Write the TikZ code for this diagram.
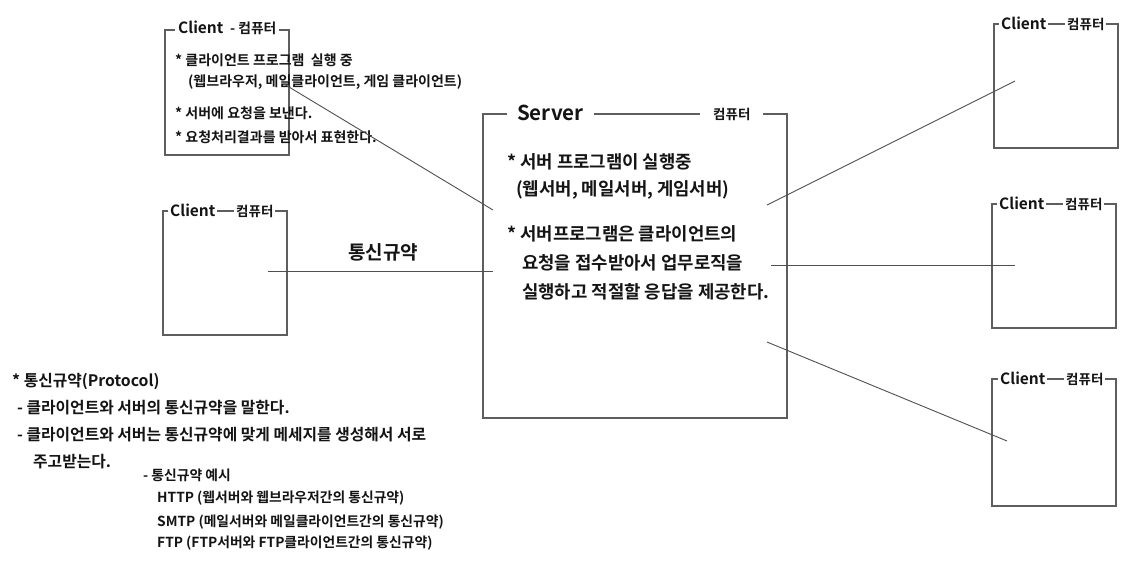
\documentclass[tikz,border=0pt]{standalone}
\usepackage{fontspec}
\setmainfont{Noto Sans CJK KR}[BoldFont={* Bold}]
\newfontfamily\kr{Noto Sans CJK KR Bold}
\definecolor{boxgray}{HTML}{5E5E5E}
\definecolor{linegray}{HTML}{505050}
\definecolor{ink}{HTML}{141414}
\begin{document}
\begin{tikzpicture}[x=1pt,y=-1pt,
  frame/.style={draw=boxgray,line width=1.1pt},
  conn/.style={draw=linegray,line width=0.9pt},
  ttl/.style={fill=white,inner xsep=2pt,inner ysep=0pt,text=ink,font=\kr\fontsize{15.5}{17}\selectfont},
  ttlsmall/.style={fill=white,inner xsep=2pt,inner ysep=0pt,text=ink,font=\kr\fontsize{13.5}{15}\selectfont},
  txt/.style={anchor=west,inner sep=0pt,text=ink,font=\kr\fontsize{14}{16}\selectfont},
  txtm/.style={anchor=west,inner sep=0pt,text=ink,font=\kr\fontsize{17.8}{20}\selectfont},
  txtb/.style={anchor=west,inner sep=0pt,text=ink,font=\kr\fontsize{15.8}{18}\selectfont},
  txts/.style={anchor=west,inner sep=0pt,text=ink,font=\kr\fontsize{13.8}{15}\selectfont}]
\useasboundingbox (0,0) rectangle (1140,570);
\fill[white] (0,0) rectangle (1140,570);

% ---- boxes
\draw[frame] (165,30) rectangle (289,155);
\draw[frame] (163,211) rectangle (287,335);
\draw[frame] (483,114) rectangle (787,418);
\draw[frame] (994,24) rectangle (1118,148);
\draw[frame] (992,204) rectangle (1116,328);
\draw[frame] (992,379) rectangle (1116,506);

% ---- titles
\node[ttl,anchor=west,inner xsep=3pt] (c1t) at (175,28) {Client {\fontsize{13.8}{15}\selectfont\ -\ 컴퓨터}};
\node[ttl,anchor=west] (c2a) at (168,210) {Client};
\node[ttlsmall,anchor=west] (c2b) at (234,211) {컴퓨터};
\node[ttl,anchor=west] (r1a) at (999,23) {Client};
\node[ttlsmall,anchor=west] (r1b) at (1065,24) {컴퓨터};
\node[ttl,anchor=west] (r2a) at (997,203) {Client};
\node[ttlsmall,anchor=west] (r2b) at (1063,204) {컴퓨터};
\node[ttl,anchor=west] (r3a) at (998,378) {Client};
\node[ttlsmall,anchor=west] (r3b) at (1064,379) {컴퓨터};
\node[fill=white,inner xsep=10pt,inner ysep=0pt,text=ink,font=\kr\fontsize{20.5}{22}\selectfont,anchor=west] (st) at (507,113) {Server};
\node[ttlsmall,anchor=west,inner xsep=13pt] (sc) at (700,114) {컴퓨터};

% ---- client 1 text
\node[txt] (c1l1) at (175,60) {* 클라이언트 프로그램\ \ 실행 중};
\node[txt] (c1l2) at (188,82) {(웹브라우저, 메일클라이언트, 게임 클라이언트)};
\node[txt] (c1l3) at (175,113) {* 서버에 요청을 보낸다.};
\node[txt] (c1l4) at (175,137) {* 요청처리결과를 받아서 표현한다.};

% ---- server text
\node[txtm] (s1) at (507,162) {* 서버 프로그램이 실행중};
\node[txtm] (s2) at (516,190) {(웹서버, 메일서버, 게임서버)};
\node[txtm] (s3) at (507,234) {* 서버프로그램은 클라이언트의};
\node[txtm] (s4) at (522,263) {요청을 접수받아서 업무로직을};
\node[txtm] (s5) at (522,292) {실행하고 적절할 응답을 제공한다.};

% ---- protocol label
\node[inner sep=0pt,text=ink,font=\kr\fontsize{19}{21}\selectfont] (proto) at (383,252) {통신규약};

% ---- connector end points
\coordinate (c1p) at (284,84);
\coordinate (c2p) at (268,271);
\coordinate (sA) at (493,210);
\coordinate (sB) at (493,271);
\coordinate (sC) at (767,205);
\coordinate (sD) at (771,265);
\coordinate (sE) at (767,342);
\coordinate (r1p) at (1015,81);
\coordinate (r2p) at (1015,265);
\coordinate (r3p) at (1007,441);

\draw[conn] (c1p) -- (sA);
\draw[conn] (c2p) -- (sB);
\draw[conn] (sC) -- (r1p);
\draw[conn] (sD) -- (r2p);
\draw[conn] (sE) -- (r3p);

% ---- bottom-left notes
\node[txtb] (n1) at (12,381) {* 통신규약(Protocol)};
\node[txtb] (n2) at (17,408) {- 클라이언트와 서버의 통신규약을 말한다.};
\node[txtb] (n3) at (17,435) {- 클라이언트와 서버는 통신규약에 맞게 메세지를 생성해서 서로};
\node[txtb] (n4) at (33,462) {주고받는다.};
\node[txts] (n5) at (143,475) {- 통신규약 예시};
\node[txts] (n6) at (157,498) {HTTP (웹서버와 웹브라우저간의 통신규약)};
\node[txts] (n7) at (157,522) {SMTP (메일서버와 메일클라이언트간의 통신규약)};
\node[txts] (n8) at (157,543) {FTP (FTP서버와 FTP클라이언트간의 통신규약)};
\end{tikzpicture}
\end{document}
